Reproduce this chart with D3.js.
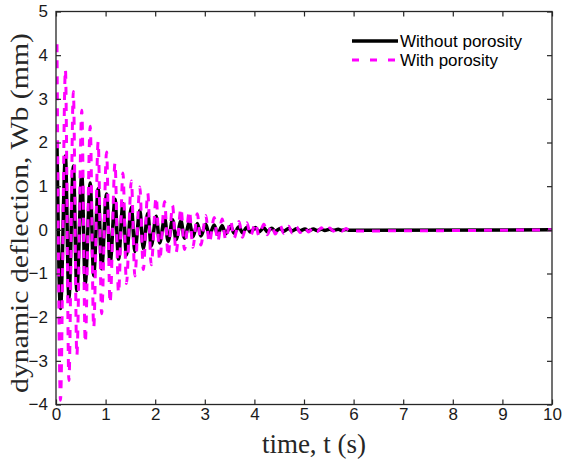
<!DOCTYPE html>
<html>
<head>
<meta charset="utf-8">
<script src="https://cdn.jsdelivr.net/npm/d3@7"></script>
<style>
  body { margin: 0; background: #fff; }
  svg { display: block; }
</style>
</head>
<body>
<div class="container"></div>
<script>
// extrema (t in s, Wb in mm)
var peakTimes = [0.02, 0.19, 0.35, 0.52, 0.69, 0.85, 1.02, 1.19, 1.35, 1.52, 1.69, 1.85,
    2.02, 2.19, 2.35, 2.52, 2.69, 2.85, 3.02, 3.19, 3.35, 3.52, 3.69, 3.85,
    4.02, 4.19, 4.35, 4.52, 4.69, 4.85, 5.02, 5.19, 5.35, 5.52, 5.69, 5.85];
var troughTimes = [0.09, 0.26, 0.42, 0.59, 0.76, 0.92, 1.09, 1.26, 1.42, 1.59, 1.76, 1.92,
    2.09, 2.26, 2.42, 2.59, 2.76, 2.92, 3.09, 3.26, 3.42, 3.59, 3.76, 3.92,
    4.09, 4.26, 4.42, 4.59, 4.76, 4.92, 5.09, 5.26, 5.42, 5.59, 5.76, 5.92];

var withoutPeaks = [1.96, 1.69, 1.46, 1.28, 1.07, 0.94, 0.82, 0.70, 0.60, 0.52, 0.45, 0.38,
    0.31, 0.27, 0.23, 0.20, 0.17, 0.145, 0.125, 0.11, 0.095, 0.08, 0.07, 0.06,
    0.052, 0.045, 0.038, 0.033, 0.028, 0.024, 0.02, 0.017, 0.015, 0.013, 0.011, 0.01];
var withoutTroughs = [-1.80, -1.58, -1.39, -1.23, -1.05, -0.89, -0.78, -0.67, -0.58, -0.50, -0.43, -0.37,
    -0.30, -0.26, -0.22, -0.19, -0.16, -0.14, -0.12, -0.105, -0.09, -0.077, -0.067, -0.057,
    -0.048, -0.042, -0.036, -0.031, -0.026, -0.022, -0.019, -0.016, -0.014, -0.012, -0.01, -0.009];

var withPeaks = [4.25, 3.67, 3.17, 2.74, 2.37, 2.02, 1.78, 1.53, 1.30, 1.12, 0.98, 0.84,
    0.75, 0.65, 0.56, 0.49, 0.43, 0.37, 0.33, 0.28, 0.25, 0.21, 0.19, 0.16,
    0.15, 0.13, 0.11, 0.10, 0.08, 0.07, 0.06, 0.05, 0.045, 0.04, 0.035, 0.03];
var withTroughs = [-3.90, -3.45, -2.88, -2.58, -2.24, -1.92, -1.67, -1.44, -1.23, -1.06, -0.91, -0.80,
    -0.70, -0.60, -0.52, -0.45, -0.40, -0.35, -0.30, -0.26, -0.22, -0.19, -0.17, -0.14,
    -0.13, -0.11, -0.095, -0.08, -0.07, -0.06, -0.05, -0.045, -0.04, -0.03, -0.03, -0.025];

var endTime = 10, endValue = 0;

var xTicks = [0, 1, 2, 3, 4, 5, 6, 7, 8, 9, 10];
var yTicks = [-4, -3, -2, -1, 0, 1, 2, 3, 4, 5];

var seriesNames = ["Without porosity", "With porosity"];

var width = 563, height = 459;
var margin = {top: 11.5, right: 11, bottom: 54.5, left: 56};

var svg = d3.select("div.container").append("svg")
    .attr("width", width)
    .attr("height", height);

var x = d3.scaleLinear().domain([0, 10]).range([margin.left, width - margin.right]);
var y = d3.scaleLinear().domain([-4, 5]).range([height - margin.bottom, margin.top]);

function buildSeries(peaks, troughs) {
    var pts = [];
    for (var i = 0; i < peakTimes.length; i++) {
        pts.push([peakTimes[i], peaks[i]]);
        pts.push([troughTimes[i], troughs[i]]);
    }
    pts.push([endTime, endValue]);
    return pts;
}

var dataWithout = buildSeries(withoutPeaks, withoutTroughs);
var dataWith = buildSeries(withPeaks, withTroughs);

svg.append("defs").append("clipPath").attr("id", "clip")
    .append("rect")
    .attr("x", x(0)).attr("y", y(5))
    .attr("width", x(10) - x(0)).attr("height", y(-4) - y(5));

var line = d3.line()
    .x(function(d) { return x(d[0]); })
    .y(function(d) { return y(d[1]); })
    .curve(d3.curveMonotoneX);

var plot = svg.append("g").attr("clip-path", "url(#clip)");

plot.append("path")
    .datum(dataWithout)
    .attr("d", line)
    .attr("fill", "none")
    .attr("stroke", "#000")
    .attr("stroke-width", 3.5);

plot.append("path")
    .datum(dataWith)
    .attr("d", line)
    .attr("fill", "none")
    .attr("stroke", "#ff00ff")
    .attr("stroke-width", 3)
    .attr("stroke-dasharray", "8,8");

// axes, MATLAB style: box with inward ticks on all sides
var axisColor = "#262626";
var tickFont = "'Liberation Sans', Arial, sans-serif";

var bottomAxis = d3.axisBottom(x).tickValues(xTicks).tickSize(-5).tickPadding(3);
var topAxis = d3.axisTop(x).tickValues(xTicks).tickSize(-5).tickFormat("");
var leftAxis = d3.axisLeft(y).tickValues(yTicks).tickSize(-5).tickPadding(8);
var rightAxis = d3.axisRight(y).tickValues(yTicks).tickSize(-5).tickFormat("");

function styleAxis(g) {
    g.select(".domain").remove();
    g.selectAll(".tick line").attr("stroke", axisColor).attr("stroke-width", 1.2);
    g.selectAll(".tick text").attr("fill", "#1a1a1a")
        .style("font-family", tickFont).style("font-size", "17px");
}

svg.append("g").attr("transform", "translate(0," + y(-4) + ")").call(bottomAxis).call(styleAxis);
svg.append("g").attr("transform", "translate(0," + y(5) + ")").call(topAxis).call(styleAxis);
svg.append("g").attr("transform", "translate(" + x(0) + ",0)").call(leftAxis).call(styleAxis);
svg.append("g").attr("transform", "translate(" + x(10) + ",0)").call(rightAxis).call(styleAxis);

svg.append("rect")
    .attr("x", x(0)).attr("y", y(5))
    .attr("width", x(10) - x(0)).attr("height", y(-4) - y(5))
    .attr("fill", "none")
    .attr("stroke", axisColor)
    .attr("stroke-width", 1.3);

// axis labels
var serif = "'Liberation Serif', 'Times New Roman', serif";

svg.append("text")
    .attr("x", 314).attr("y", 453)
    .attr("text-anchor", "middle")
    .style("font-family", serif)
    .style("font-size", "27px")
    .attr("fill", "#262626")
    .text("time, t (s)");

svg.append("text")
    .attr("transform", "translate(28,213) rotate(-90)")
    .attr("text-anchor", "middle")
    .attr("textLength", 360)
    .attr("lengthAdjust", "spacingAndGlyphs")
    .style("font-family", serif)
    .style("font-size", "25px")
    .attr("fill", "#262626")
    .text("dynamic deflection, Wb (mm)");

// legend
var legend = svg.append("g");
var legendRows = [
    {name: seriesNames[0], color: "#000", width: 3.5, dash: null, y: 41, len: 122},
    {name: seriesNames[1], color: "#ff00ff", width: 3, dash: "7,11", y: 60, len: 98}
];
legendRows.forEach(function(r) {
    legend.append("line")
        .attr("x1", 352).attr("x2", 398)
        .attr("y1", r.y).attr("y2", r.y)
        .attr("stroke", r.color)
        .attr("stroke-width", r.width)
        .attr("stroke-dasharray", r.dash);
    legend.append("text")
        .attr("x", 400).attr("y", r.y + 6)
        .attr("textLength", r.len)
        .attr("lengthAdjust", "spacingAndGlyphs")
        .style("font-family", tickFont)
        .style("font-size", "16px")
        .attr("fill", "#000")
        .text(r.name);
});
</script>
</body>
</html>
